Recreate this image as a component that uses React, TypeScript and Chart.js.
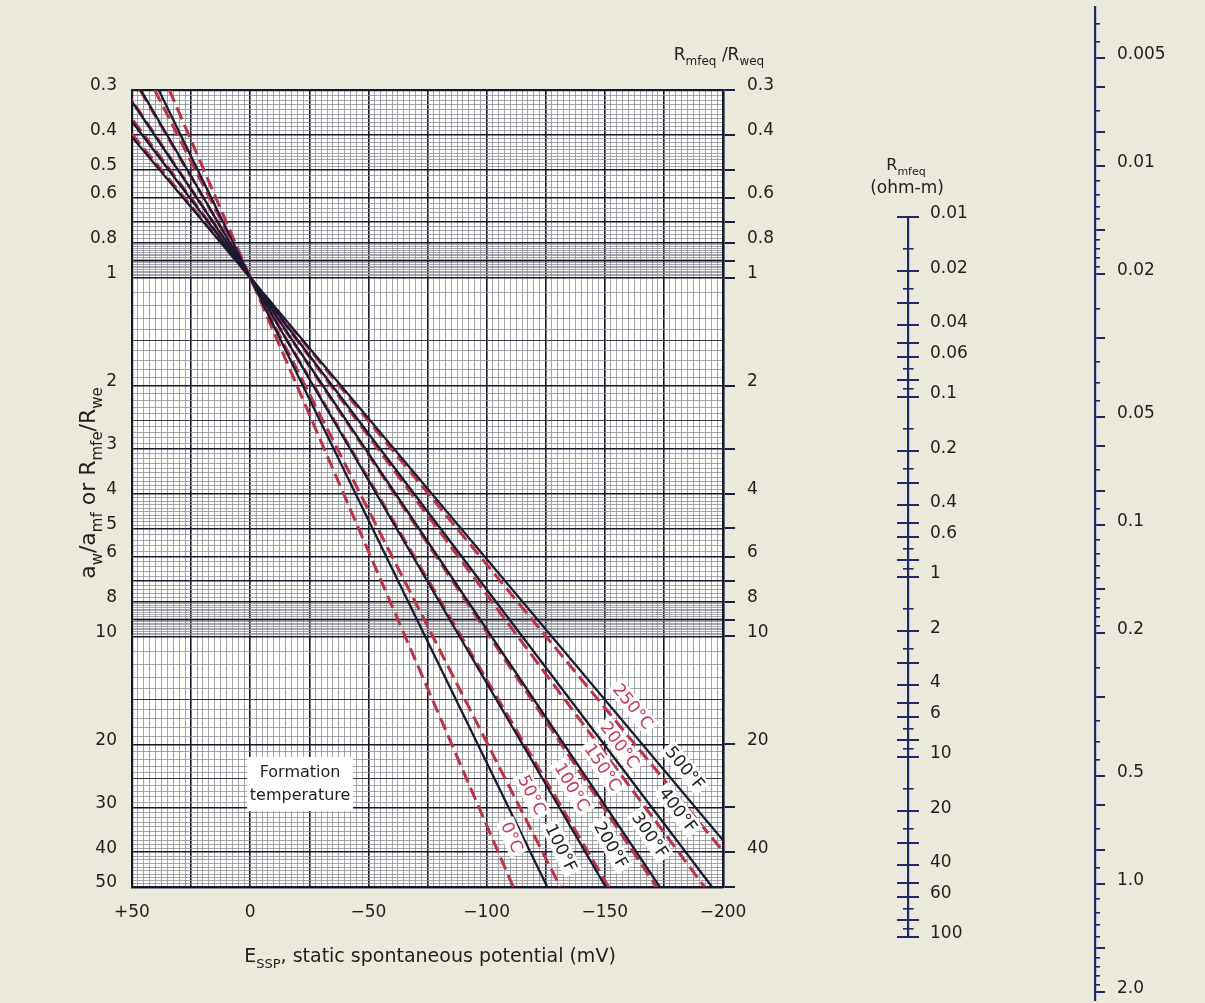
import React, { useEffect, useRef } from 'react';
import { Chart, registerables } from 'chart.js';

Chart.register(...registerables);

const FONT = '"DejaVu Sans", "Liberation Sans", Arial, sans-serif';
const PAGE_BG = '#ebe8dc';
const PLOT_BG = '#fdfdfb';
const NAVY = '#1f2868';
const INK = '#16162a';
const MINOR = '#8e8e98';
const F_COLOR = '#191932';
const C_COLOR = '#bb3348';
const C_TEXT = '#c43c55';
const TEXT = '#1e1e1e';

// ---------------- data ----------------
const E_MIN = -200;
const E_MAX = 50;
const RATIO_MIN = 0.3;
const RATIO_MAX = 50;

// Formation temperature lines (°F, solid): E_SSP read at ratio 0.3 and at ratio 50
const tempF = ['100°F', '200°F', '300°F', '400°F', '500°F'];
const fLineE_at03 = [38.7, 46.3, 53.3, 60.1, 66.7];
const fLineE_at50 = [-125.7, -150.4, -173.3, -195.4, -216.6];
const fLabelE = [-131.5, -152.6, -169.1, -181.0, -183.9];
const fLabelRatio = [38.9, 38.2, 35.8, 30.5, 23.3];

// Formation temperature lines (°C, dashed)
const tempC = ['0°C', '50°C', '100°C', '150°C', '200°C', '250°C'];
const cLineE_at03 = [34.2, 40.4, 46.6, 52.9, 59.1, 65.4];
const cLineE_at50 = [-111.3, -131.2, -151.6, -171.9, -192.2, -212.5];
const cLabelE = [-110.7, -119.2, -136.1, -149.2, -156.4, -161.9];
const cLabelRatio = [36.3, 27.7, 26.3, 23.2, 20.1, 15.7];

const formationLines = ['Formation', 'temperature'];
const formationE = -21.1;
const formationRatio = 25.8;

// main axes ticks
const xLabelValues = [50, 0, -50, -100, -150, -200];
const X_RULING_STEP = 2.5;
const X_HEAVY_EVERY = 25;
const yLeftLabels = [0.3, 0.4, 0.5, 0.6, 0.8, 1, 2, 3, 4, 5, 6, 8, 10, 20, 30, 40, 50];
const yMajorLines = [0.3, 0.4, 0.5, 0.6, 0.7, 0.8, 0.9, 1, 2, 3, 4, 5, 6, 7, 8, 9, 10, 20, 30, 40, 50];
const yMediumLines = [1.5, 2.5, 15, 25];
const yRulingBands: number[][] = [
  [0.3, 0.5, 0.01], [0.5, 0.8, 0.02], [0.8, 1, 0.01], [1, 2, 0.1], [2, 5, 0.1],
  [5, 8, 0.2], [8, 10, 0.1], [10, 50, 1],
];
const yRightTicks = [0.3, 0.4, 0.5, 0.6, 0.7, 0.8, 0.9, 1, 2, 3, 4, 5, 6, 7, 8, 9, 10, 20, 30, 40, 50];
const yRightLabels = [0.3, 0.4, 0.6, 0.8, 1, 2, 4, 6, 8, 10, 20, 40];

// R_mfeq nomogram scale (ohm-m)
const RMF_MIN = 0.01;
const RMF_MAX = 100;
const rmfLabels = [0.01, 0.02, 0.04, 0.06, 0.1, 0.2, 0.4, 0.6, 1, 2, 4, 6, 10, 20, 40, 60, 100];
const rmfMajorMantissas = [1, 2, 3, 4, 5, 6, 8];
const rmfMinorMantissas = [1.5, 2.5, 7, 9];

// R_weq scale (far right)
const RW_MIN = 0.0036;
const RW_MAX = 2.1;
const rwLabelValues = [0.005, 0.01, 0.02, 0.05, 0.1, 0.2, 0.5, 1, 2];
const rwLabelTexts = ['0.005', '0.01', '0.02', '0.05', '0.1', '0.2', '0.5', '1.0', '2.0'];
const rwLongMantissas = [1, 1.5, 2, 3, 5, 6, 8];
const rwShortMantissas = [1.1, 1.2, 1.3, 1.4, 1.6, 1.7, 1.8, 1.9, 2.5, 3.5, 4, 4.5, 7, 9];

// ---------------- layout ----------------
const W = 1205;
const H = 1003;
const PLOT_LEFT = 132;
const PLOT_TOP = 90;
const PLOT_RIGHT = 723;
const PLOT_BOTTOM = 887;
const RMF_AXIS = { x: 908, top: 217, bottom: 937 };
const RW_AXIS = { x: 1095, top: 7, bottom: 1000 };

// ---------------- helpers ----------------
const near = (a: number, b: number) => Math.abs(a - b) < 1e-6 * Math.max(1, Math.abs(a));
const inList = (list: number[], v: number) => list.some((l) => near(l, v));

function buildRuling(bands: number[][]) {
  const m = new Map<string, number>();
  for (const [a, b, s] of bands) {
    const n = Math.round((b - a) / s);
    for (let i = 0; i <= n; i++) {
      const v = Number((a + i * s).toPrecision(6));
      m.set(String(v), v);
    }
  }
  return [...m.values()].sort((p, q) => p - q);
}

function decadeValues(mantissas: number[], min: number, max: number) {
  const out: number[] = [];
  for (let e = Math.floor(Math.log10(min)) - 1; e <= Math.ceil(Math.log10(max)); e++) {
    for (const mm of mantissas) {
      const v = Number((mm * Math.pow(10, e)).toPrecision(6));
      if (v >= min * 0.9999 && v <= max * 1.0001) out.push(v);
    }
  }
  return out.sort((a, b) => a - b);
}

const xGridValues: number[] = [];
for (let v = E_MIN; v <= E_MAX + 1e-9; v += X_RULING_STEP) xGridValues.push(Math.round(v * 10) / 10);
const yGridValues = buildRuling(yRulingBands);
const rmfMajor = decadeValues(rmfMajorMantissas, RMF_MIN, RMF_MAX);
const rmfMinor = decadeValues(rmfMinorMantissas, RMF_MIN, RMF_MAX);
const rwLong = decadeValues(rwLongMantissas, RW_MIN, RW_MAX);
const rwShort = decadeValues(rwShortMantissas, RW_MIN, RW_MAX);

const setTicks = (vals: number[]) => (s: any) => {
  s.ticks = vals.map((v) => ({ value: v }));
};

type Part = { t: string; sub?: boolean };

function drawRich(ctx: CanvasRenderingContext2D, parts: Part[], cx: number, cy: number, size: number, subSize: number, color: string) {
  const widths = parts.map((p) => {
    ctx.font = `${p.sub ? subSize : size}px ${FONT}`;
    return ctx.measureText(p.t).width;
  });
  const total = widths.reduce((a, b) => a + b, 0);
  let x = cx - total / 2;
  const base = cy + size * 0.36;
  ctx.fillStyle = color;
  ctx.textAlign = 'left';
  ctx.textBaseline = 'alphabetic';
  parts.forEach((p, i) => {
    ctx.font = `${p.sub ? subSize : size}px ${FONT}`;
    ctx.fillText(p.t, x, p.sub ? base + size * 0.3 : base);
    x += widths[i];
  });
}

// ---------------- plugins ----------------
const placeAxes = {
  id: 'placeAxes',
  afterLayout(chart: any) {
    const put = (id: string, left: number, top: number, bottom: number) => {
      const sc = chart.scales[id];
      if (!sc) return;
      sc.left = left;
      sc.right = W;
      sc.width = W - left;
      sc.top = top;
      sc.bottom = bottom;
      sc.height = bottom - top;
      sc.configure();
    };
    put('rmBorder', RMF_AXIS.x, RMF_AXIS.top, RMF_AXIS.bottom);
    put('rmMajor', RMF_AXIS.x - 11, RMF_AXIS.top, RMF_AXIS.bottom);
    put('rmMinor', RMF_AXIS.x - 5.5, RMF_AXIS.top, RMF_AXIS.bottom);
    put('rwMajor', RW_AXIS.x, RW_AXIS.top, RW_AXIS.bottom);
    put('rwMinor', RW_AXIS.x, RW_AXIS.top, RW_AXIS.bottom);
  },
};

const decor = {
  id: 'decor',
  beforeDraw(chart: any) {
    const { ctx, chartArea: a } = chart;
    ctx.save();
    ctx.fillStyle = PAGE_BG;
    ctx.fillRect(0, 0, chart.width, chart.height);
    ctx.fillStyle = PLOT_BG;
    ctx.fillRect(a.left, a.top, a.right - a.left, a.bottom - a.top);
    ctx.restore();
  },
  afterDatasetsDraw(chart: any) {
    const { ctx } = chart;
    const xs = chart.scales.x;
    const ys = chart.scales.y;
    const lineLabel = (text: string, e0: number, e1: number, le: number, lr: number, color: string) => {
      const x0 = xs.getPixelForValue(e0);
      const y0 = ys.getPixelForValue(RATIO_MIN);
      const x1 = xs.getPixelForValue(e1);
      const y1 = ys.getPixelForValue(RATIO_MAX);
      const ang = Math.atan2(y1 - y0, x1 - x0);
      const px = xs.getPixelForValue(le);
      const py = ys.getPixelForValue(lr);
      ctx.save();
      ctx.translate(px, py);
      ctx.rotate(ang);
      ctx.font = `17px ${FONT}`;
      const w = ctx.measureText(text).width;
      ctx.fillStyle = 'rgba(255,255,255,0.93)';
      ctx.fillRect(-w / 2 - 3, -9.5, w + 6, 19);
      ctx.fillStyle = color;
      ctx.textAlign = 'center';
      ctx.textBaseline = 'middle';
      ctx.fillText(text, 0, 1);
      ctx.restore();
    };
    tempC.forEach((t, i) => lineLabel(t, cLineE_at03[i], cLineE_at50[i], cLabelE[i], cLabelRatio[i], C_TEXT));
    tempF.forEach((t, i) => lineLabel(t, fLineE_at03[i], fLineE_at50[i], fLabelE[i], fLabelRatio[i], TEXT));

    const fx = xs.getPixelForValue(formationE);
    const fy = ys.getPixelForValue(formationRatio);
    ctx.save();
    ctx.fillStyle = '#ffffff';
    ctx.fillRect(fx - 53, fy - 27, 106, 54);
    ctx.fillStyle = TEXT;
    ctx.font = `16px ${FONT}`;
    ctx.textAlign = 'center';
    ctx.textBaseline = 'middle';
    ctx.fillText(formationLines[0], fx, fy - 11);
    ctx.fillText(formationLines[1], fx, fy + 12);
    ctx.restore();
  },
  afterDraw(chart: any) {
    const { ctx } = chart;
    ctx.save();
    // x title
    drawRich(ctx, [{ t: 'E' }, { t: 'SSP', sub: true }, { t: ', static spontaneous potential (mV)' }], 430, 955, 19, 13, TEXT);
    // left title (rotated)
    ctx.save();
    ctx.translate(87, 483);
    ctx.rotate(-Math.PI / 2);
    drawRich(
      ctx,
      [
        { t: 'a' }, { t: 'w', sub: true }, { t: '/a' }, { t: 'mf', sub: true }, { t: ' or R' },
        { t: 'mfe', sub: true }, { t: '/R' }, { t: 'we', sub: true },
      ],
      0, 0, 22, 15, TEXT,
    );
    ctx.restore();
    // right axis title
    drawRich(ctx, [{ t: 'R' }, { t: 'mfeq', sub: true }, { t: ' /R' }, { t: 'weq', sub: true }], 719, 54, 17, 12, TEXT);
    // Rmfeq scale title
    drawRich(ctx, [{ t: 'R' }, { t: 'mfeq', sub: true }], 906, 164, 16, 11, TEXT);
    drawRich(ctx, [{ t: '(ohm-m)' }], 907, 187, 17, 12, TEXT);
    ctx.restore();
  },
};

// ---------------- chart config ----------------
function buildConfig(): any {
  const fDatasets = tempF.map((name, i) => ({
    label: name,
    data: [{ x: fLineE_at03[i], y: RATIO_MIN }, { x: fLineE_at50[i], y: RATIO_MAX }],
    borderColor: F_COLOR,
    borderWidth: 2.3,
    pointRadius: 0,
    tension: 0,
    fill: false,
    order: 0,
  }));
  const cDatasets = tempC.map((name, i) => ({
    label: name,
    data: [{ x: cLineE_at03[i], y: RATIO_MIN }, { x: cLineE_at50[i], y: RATIO_MAX }],
    borderColor: C_COLOR,
    borderWidth: 3,
    borderDash: [13, 6],
    pointRadius: 0,
    tension: 0,
    fill: false,
    order: 1,
  }));

  const tickFont = { family: FONT, size: 17 };

  const extraLog = (min: number, max: number) => ({
    type: 'logarithmic',
    reverse: true,
    min,
    max,
    bounds: 'data',
    position: 'right',
    afterFit: (s: any) => {
      s.width = 0;
    },
  });

  return {
    type: 'line',
    data: { datasets: [...fDatasets, ...cDatasets] },
    options: {
      responsive: false,
      animation: false,
      devicePixelRatio: 1,
      events: [],
      layout: { padding: { top: PLOT_TOP, left: 0, right: 0, bottom: 0 } },
      plugins: { legend: { display: false }, tooltip: { enabled: false }, title: { display: false } },
      scales: {
        x: {
          type: 'linear',
          reverse: true,
          min: E_MIN,
          max: E_MAX,
          bounds: 'data',
          position: 'bottom',
          afterBuildTicks: setTicks(xGridValues),
          afterFit: (s: any) => {
            s.height = H - PLOT_BOTTOM;
          },
          grid: {
            drawTicks: false,
            color: (c: any) => {
              const v = c.tick ? c.tick.value : 0;
              return Math.abs(v % X_HEAVY_EVERY) < 1e-6 ? INK : MINOR;
            },
            lineWidth: (c: any) => {
              const v = c.tick ? c.tick.value : 0;
              return Math.abs(v % X_HEAVY_EVERY) < 1e-6 ? 1.6 : 0.8;
            },
          },
          border: { display: true, color: INK, width: 2.2 },
          ticks: {
            autoSkip: false,
            maxRotation: 0,
            minRotation: 0,
            padding: 15,
            color: TEXT,
            font: tickFont,
            callback: (v: number) => {
              if (!inList(xLabelValues, v)) return '';
              if (v > 0) return '+' + v;
              if (v === 0) return '0';
              return '\u2212' + Math.abs(v);
            },
          },
        },
        y: {
          type: 'logarithmic',
          reverse: true,
          min: RATIO_MIN,
          max: RATIO_MAX,
          bounds: 'data',
          position: 'left',
          afterBuildTicks: setTicks(yGridValues),
          afterFit: (s: any) => {
            s.width = PLOT_LEFT;
          },
          grid: {
            drawTicks: false,
            color: (c: any) => {
              const v = c.tick ? c.tick.value : 1;
              if (inList(yMajorLines, v)) return INK;
              if (inList(yMediumLines, v)) return '#3c3c4a';
              return MINOR;
            },
            lineWidth: (c: any) => {
              const v = c.tick ? c.tick.value : 1;
              if (near(v, RATIO_MIN) || near(v, RATIO_MAX)) return 2.2;
              if (inList(yMajorLines, v)) return 1.5;
              if (inList(yMediumLines, v)) return 1.1;
              return 0.8;
            },
          },
          border: { display: true, color: INK, width: 2.2 },
          ticks: {
            autoSkip: false,
            padding: 15,
            labelOffset: -4,
            color: TEXT,
            font: tickFont,
            callback: (v: number) => (inList(yLeftLabels, v) ? String(Number(v.toPrecision(6))) : ''),
          },
        },
        y2: {
          type: 'logarithmic',
          reverse: true,
          min: RATIO_MIN,
          max: RATIO_MAX,
          bounds: 'data',
          position: 'right',
          afterBuildTicks: setTicks(yRightTicks),
          afterFit: (s: any) => {
            s.width = W - PLOT_RIGHT;
          },
          grid: { drawOnChartArea: false, drawTicks: true, tickLength: 12, color: '#1a1f4a', lineWidth: 2 },
          border: { display: true, color: '#141833', width: 2.6 },
          ticks: {
            autoSkip: false,
            padding: 12,
            labelOffset: -4,
            color: TEXT,
            font: tickFont,
            callback: (v: number) => (inList(yRightLabels, v) ? String(Number(v.toPrecision(6))) : ''),
          },
        },
        rmBorder: {
          ...extraLog(RMF_MIN, RMF_MAX),
          afterBuildTicks: setTicks([RMF_MIN, RMF_MAX]),
          grid: { display: false, drawOnChartArea: false },
          border: { display: true, color: NAVY, width: 2.2 },
          ticks: { display: false },
        },
        rmMajor: {
          ...extraLog(RMF_MIN, RMF_MAX),
          afterBuildTicks: setTicks(rmfMajor),
          grid: { drawOnChartArea: false, drawTicks: true, tickLength: 22, color: NAVY, lineWidth: 2 },
          border: { display: false },
          ticks: {
            autoSkip: false,
            padding: 11,
            labelOffset: -3,
            color: TEXT,
            font: tickFont,
            callback: (v: number) => (inList(rmfLabels, v) ? String(Number(v.toPrecision(6))) : ''),
          },
        },
        rmMinor: {
          ...extraLog(RMF_MIN, RMF_MAX),
          afterBuildTicks: setTicks(rmfMinor),
          grid: { drawOnChartArea: false, drawTicks: true, tickLength: 11, color: NAVY, lineWidth: 1.6 },
          border: { display: false },
          ticks: { display: false },
        },
        rwMajor: {
          ...extraLog(RW_MIN, RW_MAX),
          afterBuildTicks: setTicks(rwLong),
          grid: { drawOnChartArea: false, drawTicks: true, tickLength: 10, color: NAVY, lineWidth: 2 },
          border: { display: true, color: NAVY, width: 2.2 },
          ticks: {
            autoSkip: false,
            padding: 12,
            labelOffset: -4,
            color: TEXT,
            font: tickFont,
            callback: (v: number) => {
              const i = rwLabelValues.findIndex((l) => near(l, v));
              return i >= 0 ? rwLabelTexts[i] : '';
            },
          },
        },
        rwMinor: {
          ...extraLog(RW_MIN, RW_MAX),
          afterBuildTicks: setTicks(rwShort),
          grid: { drawOnChartArea: false, drawTicks: true, tickLength: 5, color: NAVY, lineWidth: 1.6 },
          border: { display: false },
          ticks: { display: false },
        },
      },
    },
    plugins: [placeAxes, decor],
  };
}

export default function App() {
  const ref = useRef<HTMLCanvasElement>(null);
  useEffect(() => {
    document.body.style.margin = '0';
    document.body.style.background = PAGE_BG;
    Chart.defaults.font.family = FONT;
    const chart = new Chart(ref.current as HTMLCanvasElement, buildConfig());
    return () => chart.destroy();
  }, []);
  return (
    <div style={{ width: W, height: H }}>
      <canvas ref={ref} width={W} height={H} style={{ display: 'block', width: W, height: H }} />
    </div>
  );
}
